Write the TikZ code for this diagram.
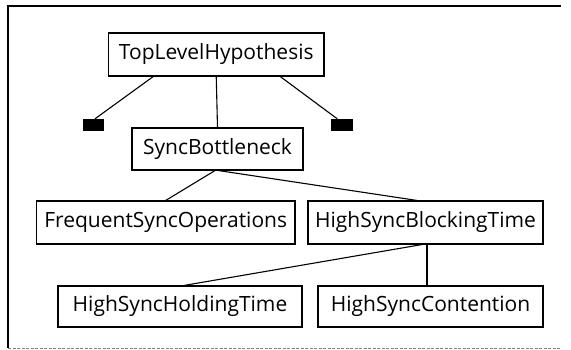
\documentclass[tikz,border=0pt]{standalone}
\usepackage{fontspec}
\setmainfont{Open Sans}
\usetikzlibrary{calc}
\tikzset{
  box/.style={draw, line width=1.1pt, inner sep=0pt, align=center, font=\fontsize{21}{25}\selectfont},
  blk/.style={fill=black, draw=none, inner sep=0pt},
  link/.style={line width=1.1pt}
}
\begin{document}
\begin{tikzpicture}[x=1pt,y=-1pt]
\useasboundingbox (0,0) rectangle (571,350);
% frame
\draw[line width=2pt] (8,6) -- (561,6);
\draw[line width=1.1pt] (8,5) -- (8,348);
\draw[line width=0.6pt, gray, dash pattern=on 3pt off 1.5pt] (8,348) -- (561,348);
% nodes
\node[box, minimum width=215.5pt, minimum height=43pt] (top) at (216.25,54.5) {TopLevelHypothesis};
\node[box, minimum width=171pt, minimum height=42pt] (sb) at (217.5,149) {SyncBottleneck};
\node[box, minimum width=258.6pt, minimum height=43pt] (fso) at (165.7,222.5) {FrequentSyncOperations};
\node[box, minimum width=235pt, minimum height=43pt] (hsbt) at (425.5,222.5) {HighSyncBlockingTime};
\node[box, minimum width=244pt, minimum height=41pt] (hsht) at (180,306.5) {HighSyncHoldingTime};
\node[box, minimum width=225pt, minimum height=41pt] (hsc) at (430.5,306.5) {HighSyncContention};
\node[blk, minimum width=21pt, minimum height=12pt] (lsq) at (93.5,125) {};
\node[blk, minimum width=21.5pt, minimum height=12pt] (rsq) at (341.75,125) {};
% connectors
\draw[link] ([xshift=-63pt]top.south) -- ([xshift=1.5pt]lsq.north);
\draw[link] ([xshift=64pt]top.south) -- ([xshift=-4.5pt]rsq.north);
\draw[link] (top.south) -- (sb.north);
\draw[link] ([xshift=-2.5pt]sb.south) -- (fso.north);
\draw[link] ([xshift=1pt]sb.south) -- ([xshift=-8.5pt]hsbt.north);
\draw[link] ([xshift=-3.5pt]hsbt.south) -- ([xshift=4pt]hsht.north);
\draw[link] ([xshift=1.5pt]hsbt.south) -- ([xshift=1.5pt]hsbt.south |- hsc.north);
\end{tikzpicture}
\end{document}
